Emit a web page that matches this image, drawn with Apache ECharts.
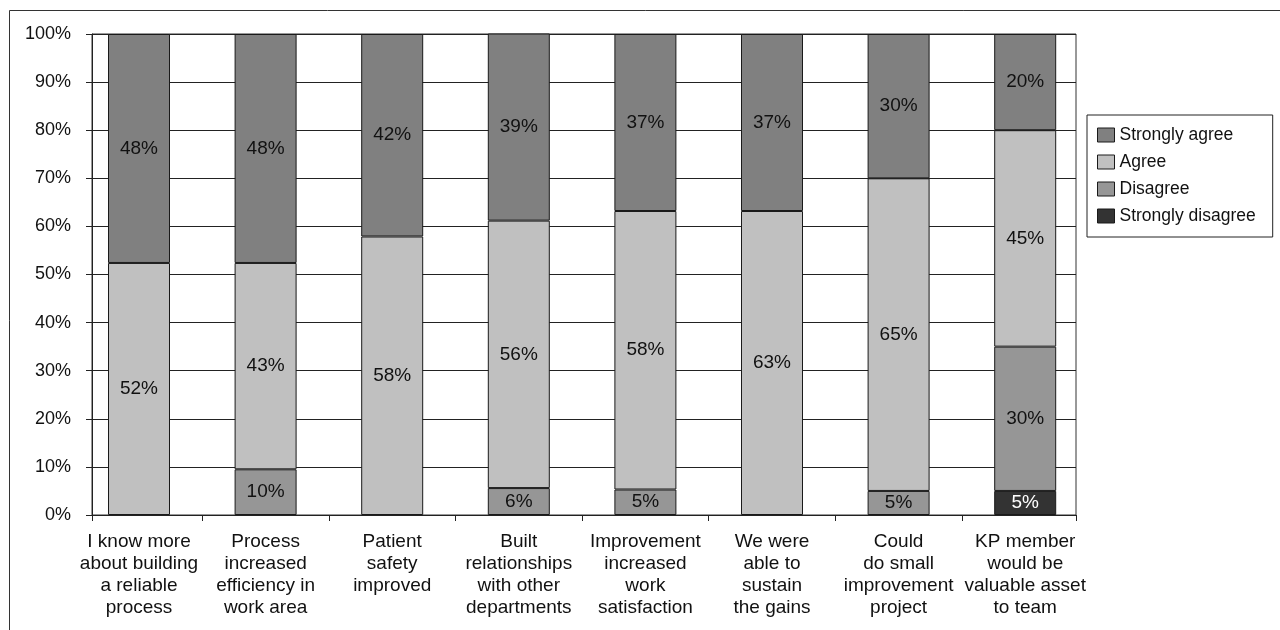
<!DOCTYPE html>
<html>
<head>
<meta charset="utf-8">
<script src="https://cdn.jsdelivr.net/npm/echarts@6/dist/echarts.min.js"></script>
<style>
html,body{margin:0;padding:0;background:#fff;}
#chart{width:1280px;height:630px;}
</style>
</head>
<body>
<div id="chart"></div>
<script>
const categories = [
  "I know more\nabout building\na reliable\nprocess",
  "Process\nincreased\nefficiency in\nwork area",
  "Patient\nsafety\nimproved",
  "Built\nrelationships\nwith other\ndepartments",
  "Improvement\nincreased\nwork\nsatisfaction",
  "We were\nable to\nsustain\nthe gains",
  "Could\ndo small\nimprovement\nproject",
  "KP member\nwould be\nvaluable asset\nto team"
];
const stronglyDisagree = [null, null, null, null, null, null, null, 5];
const disagree         = [null, 9.5, null, 5.6, 5.3, null, 5, 30];
const agree            = [52.4, 42.9, 57.9, 55.6, 57.9, 63.2, 65, 45];
const stronglyAgree    = [47.6, 47.6, 42.1, 38.9, 36.8, 36.8, 30, 20];
const yTicks = [0, 10, 20, 30, 40, 50, 60, 70, 80, 90, 100];
const xTickBoundaries = [1, 2, 3, 4, 5, 6, 7];

const FONT = 'Liberation Sans, Arial, sans-serif';

// layout (pixels)
const FRAME_L = 92, FRAME_R = 1076, TOP = 34, BOTTOM = 115;
const BAND_L = 75.7, BAND_R = 1088.5;
const bandW = (BAND_R - BAND_L) / categories.length;
const frameMin = (FRAME_L - BAND_L) / bandW;
const frameMax = (FRAME_R - BAND_L) / bandW;

function mk(name, data, color, labelColor) {
  return {
    name: name,
    type: 'bar',
    stack: 'total',
    xAxisIndex: 1,
    yAxisIndex: 1,
    data: data,
    barWidth: 62,
    itemStyle: { color: color, borderColor: '#1a1a1a', borderWidth: 1 },
    label: {
      show: true,
      position: 'inside',
      color: labelColor,
      fontFamily: FONT,
      fontSize: 19,
      formatter: p => (p.value == null || p.value === 0) ? '' : Math.round(p.value) + '%'
    },
    emphasis: { disabled: true }
  };
}

const chart = echarts.init(document.getElementById('chart'));
chart.setOption({
  animation: false,
  backgroundColor: '#fff',
  textStyle: { fontFamily: FONT },
  graphic: [{
    type: 'rect',
    shape: { x: 9.5, y: 10.5, width: 1400, height: 1000 },
    style: { fill: 'none', stroke: '#333', lineWidth: 1 },
    silent: true,
    z: -10
  }],
  grid: [
    { left: FRAME_L, right: 1280 - FRAME_R, top: TOP, bottom: BOTTOM,
      show: true, borderColor: '#333', borderWidth: 1 },
    { left: BAND_L, right: 1280 - BAND_R, top: TOP, bottom: BOTTOM }
  ],
  legend: {
    orient: 'vertical',
    left: 1087, top: 115,
    data: ['Strongly agree', 'Agree', 'Disagree', 'Strongly disagree'],
    icon: 'rect',
    itemWidth: 17, itemHeight: 14, itemGap: 9,
    padding: [11, 17, 12, 10],
    borderColor: '#222', borderWidth: 1,
    textStyle: { fontFamily: FONT, fontSize: 17.5, color: '#111' },
    itemStyle: { borderColor: '#1a1a1a', borderWidth: 1 }
  },
  xAxis: [
    {
      gridIndex: 0,
      type: 'value',
      min: frameMin, max: frameMax,
      axisLine: { show: true, onZero: false, lineStyle: { color: '#222', width: 1 } },
      axisTick: { show: true, length: 6, customValues: [frameMin].concat(xTickBoundaries, [frameMax]), lineStyle: { color: '#222' } },
      axisLabel: { show: false },
      splitLine: { show: false }
    },
    {
      gridIndex: 1,
      type: 'category',
      data: categories,
      axisLine: { show: false },
      axisTick: { show: false },
      axisLabel: {
        interval: 0, margin: 16, fontFamily: FONT, fontSize: 19,
        color: '#111', lineHeight: 22, align: 'center'
      },
      splitLine: { show: false }
    }
  ],
  yAxis: [
    {
      gridIndex: 0,
      type: 'value',
      min: yTicks[0], max: yTicks[yTicks.length - 1], interval: 10,
      axisLine: { show: true, lineStyle: { color: '#222', width: 1 } },
      axisTick: { show: true, length: 6, lineStyle: { color: '#222' } },
      axisLabel: { margin: 21, fontFamily: FONT, fontSize: 18, color: '#111', formatter: '{value}%' },
      splitLine: { show: true, lineStyle: { color: '#222', width: 1 } }
    },
    {
      gridIndex: 1,
      type: 'value',
      min: yTicks[0], max: yTicks[yTicks.length - 1],
      show: false
    }
  ],
  series: [
    mk('Strongly disagree', stronglyDisagree, '#333333', '#ffffff'),
    mk('Disagree', disagree, '#969696', '#111'),
    mk('Agree', agree, '#c0c0c0', '#111'),
    mk('Strongly agree', stronglyAgree, '#808080', '#111')
  ]
});
</script>
</body>
</html>
